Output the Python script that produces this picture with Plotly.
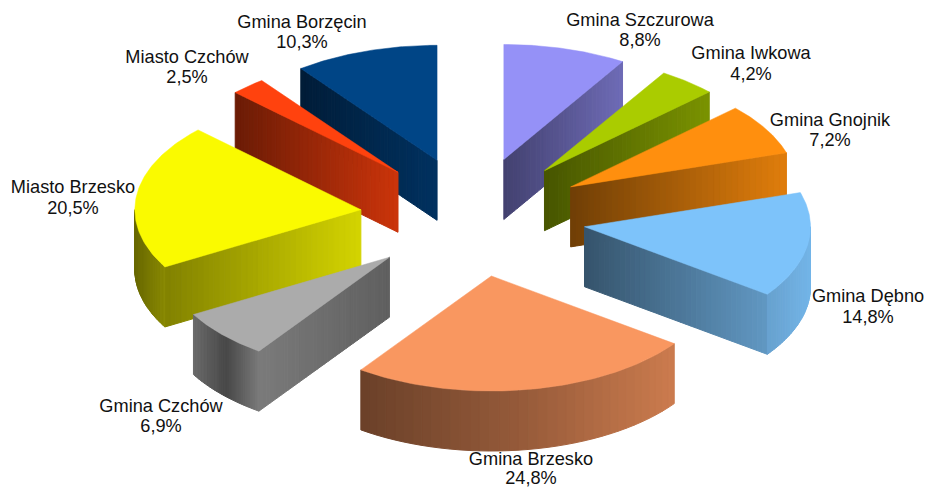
import math
import plotly.graph_objects as go

# --- data (clockwise from 12 o'clock) ---
labels = ["Gmina Szczurowa", "Gmina Iwkowa", "Gmina Gnojnik", "Gmina Dębno", "Gmina Brzesko",
          "Gmina Czchów", "Miasto Brzesko", "Miasto Czchów", "Gmina Borzęcin"]
shares = [8.8, 4.2, 7.2, 14.8, 24.8, 6.9, 20.5, 2.5, 10.3]

# --- style ---
colors = ["#9591f7", "#aacc00", "#ff8f0e", "#7dc3fa", "#f99760", "#ababab", "#fafa00", "#ff420e", "#004586"]
radial_shade = [(.45, .74), (.42, .72), (.44, .88), (.43, .78), (.5, .8), (.72, .56), (.52, .85), (.42, .8), (.42, .72)]
arc_shade = [[.7, .7], [.7, .7], [.8, .85], [.83, .93], [.43, .6, .82], [.62, .42, .72], [.42, .55], [.6, .6], [.6, .6]]
label_x = [640, 751, 830, 868, 531, 161, 73, 187, 302]
name_y = [21, 54, 121, 297, 460, 407, 188, 58, 23]
value_y = [41, 75, 141, 318, 479, 427, 209, 78, 43]
draw_order = [0, 8, 1, 7, 2, 6, 3, 5, 4]

CX, CY = 473, 217      # pie centre
RX, RY = 226, 115      # ellipse radii of the tilted disc
EXPLODE_X, EXPLODE_Y = 0.5, 0.52  # offset of each slice, as a share of the radius
DEPTH = 60             # wall height
N = 36


def shade(hex_color, f):
    r, g, b = (int(hex_color[i:i + 2], 16) for i in (1, 3, 5))
    return f"rgb({int(r * f)},{int(g * f)},{int(b * f)})"


def ramp(stops, t):
    p = min(max(t, 0), 1) * (len(stops) - 1)
    i = min(int(p), len(stops) - 2)
    return stops[i] + (stops[i + 1] - stops[i]) * (p - i)


def rim(ax, ay, th):
    return ax + RX * math.sin(th), ay - RY * math.cos(th)


fig = go.Figure()


def poly(xs, ys, color, lw=1.0):
    fig.add_trace(go.Scatter(x=xs + xs[:1], y=ys + ys[:1], mode="lines", fill="toself", fillcolor=color,
                             line=dict(color=color, width=lw), hoverinfo="skip", showlegend=False))


starts = []
acc = 0.0
total = sum(shares)
for s in shares:
    starts.append(acc)
    acc += s

for i in draw_order:
    t1 = 2 * math.pi * starts[i] / total
    t2 = 2 * math.pi * (starts[i] + shares[i]) / total
    mid = (t1 + t2) / 2
    ax = CX + EXPLODE_X * RX * math.sin(mid)
    ay = CY - EXPLODE_Y * RY * math.cos(mid)
    col = colors[i]

    # radial wall facing the viewer
    edges = []
    if math.sin(t1) < 0:
        edges.append(t1)
    if math.sin(t2) > 0:
        edges.append(t2)
    for th in edges:
        ex, ey = rim(ax, ay, th)
        lo, hi = min(ax, ex), max(ax, ex)
        for k in range(N):
            a, b = k / N, (k + 1) / N
            x1, y1 = ax + (ex - ax) * a, ay + (ey - ay) * a
            x2, y2 = ax + (ex - ax) * b, ay + (ey - ay) * b
            frac = ((x1 + x2) / 2 - lo) / (hi - lo)
            poly([x1, x2, x2, x1], [y1, y2, y2 + DEPTH, y1 + DEPTH], shade(col, ramp(radial_shade[i], frac)))

    # outer wall: the part of the arc on the front half of the disc
    a1, a2 = max(t1, math.pi / 2), min(t2, 3 * math.pi / 2)
    if a2 > a1:
        pts = [rim(ax, ay, a1 + (a2 - a1) * k / N) for k in range(N + 1)]
        lo = min(p[0] for p in pts)
        hi = max(p[0] for p in pts)
        for k in range(N):
            (x1, y1), (x2, y2) = pts[k], pts[k + 1]
            frac = ((x1 + x2) / 2 - lo) / max(hi - lo, 1)
            poly([x1, x2, x2, x1], [y1, y2, y2 + DEPTH, y1 + DEPTH], shade(col, ramp(arc_shade[i], frac)))

    # top face
    top = [rim(ax, ay, t1 + (t2 - t1) * k / 80) for k in range(81)]
    poly([ax] + [p[0] for p in top], [ay] + [p[1] for p in top], col, 0.5)

value_text = [f"{v:.1f}%".replace(".", ",") for v in shares]
font = dict(family="Liberation Sans", size=18.2, color="#111111")
fig.add_trace(go.Scatter(x=label_x, y=name_y, text=labels, mode="text", textposition="middle center",
                         textfont=font, hoverinfo="skip", showlegend=False))
fig.add_trace(go.Scatter(x=label_x, y=value_y, text=value_text, mode="text", textposition="middle center",
                         textfont=font, hoverinfo="skip", showlegend=False))

fig.update_layout(
    width=927, height=489, margin=dict(l=0, r=0, t=0, b=0), autosize=False,
    paper_bgcolor="white", plot_bgcolor="white", showlegend=False,
    xaxis=dict(range=[0, 927], visible=False, fixedrange=True),
    yaxis=dict(range=[489, 0], visible=False, fixedrange=True),
)
fig.write_html("out.html", config={"displayModeBar": False},
               post_script="document.body.style.margin='0';document.documentElement.style.overflow='hidden';")
